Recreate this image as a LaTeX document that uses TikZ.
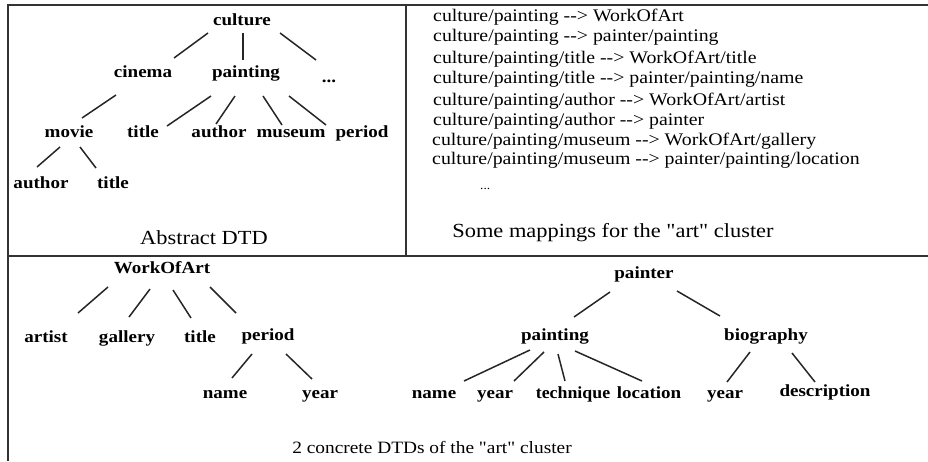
\documentclass[tikz,border=0pt]{standalone}
\usepackage{fontspec}
\setmainfont{Liberation Serif}[FakeStretch=1.12]
% same face without the TeX input mapping, for straight double quotes
\newfontfamily\straightq{Liberation Serif}[FakeStretch=1.12]
\usetikzlibrary{calc}
\newcommand{\dq}{{\straightq"}}
\begin{document}
\begin{tikzpicture}[x=1pt,y=-1pt,
  lbl/.style={anchor=base,inner sep=0pt,font=\fontsize{17}{20}\selectfont\bfseries},
  mapline/.style={anchor=base west,inner sep=0pt,font=\fontsize{17.7}{20}\selectfont},
  caption/.style={anchor=base,inner sep=0pt},
  frame/.style={line width=2pt,draw=black!80},
  branch/.style={line width=1.5pt,draw=black!85}]
\useasboundingbox (0,0) rectangle (928,461);

% panel frame
\draw[frame] (928,4.5) -- (7.5,4.5) -- (7.5,461);
\draw[frame] (7.5,255.5) -- (928,255.5);
\draw[frame] (406,4.5) -- (406,255.5);

% abstract DTD
\node[lbl] (culture) at (242,25) {culture};
\node[lbl] (cinema) at (143,77) {cinema};
\node[lbl] (painting) at (246,77) {painting};
\node[lbl] (more) at (329,82) {...};
\node[lbl] (movie) at (69,137) {movie};
\node[lbl] (ptitle) at (143,137) {title};
\node[lbl] (pauthor) at (219,137) {author};
\node[lbl] (museum) at (291,137) {museum};
\node[lbl] (pperiod) at (362,137) {period};
\node[lbl] (mauthor) at (41,188) {author};
\node[lbl] (mtitle) at (113,188) {title};

\draw[branch] ($(culture.base)+(-34,8)$) -- ($(cinema.base)+(31,-19)$);
\draw[branch] ($(culture.base)+(1,8)$) -- ($(painting.base)+(-3,-17)$);
\draw[branch] ($(culture.base)+(38,8)$) -- ($(more.base)+(-13,-22)$);
\draw[branch] ($(cinema.base)+(-27,18)$) -- ($(movie.base)+(13,-19)$);
\draw[branch] ($(painting.base)+(-35,19)$) -- ($(ptitle.base)+(24,-11)$);
\draw[branch] ($(painting.base)+(-11,19)$) -- ($(pauthor.base)+(-3,-13)$);
\draw[branch] ($(painting.base)+(17,19)$) -- ($(museum.base)+(-9,-12)$);
\draw[branch] ($(painting.base)+(43,19)$) -- ($(pperiod.base)+(-36,-12)$);
\draw[branch] ($(movie.base)+(-9,10)$) -- ($(mauthor.base)+(-4,-21)$);
\draw[branch] ($(movie.base)+(11,10)$) -- ($(mtitle.base)+(-17,-20)$);

\node[caption,font=\fontsize{20}{24}\selectfont] (abscap) at (204,244) {Abstract DTD};

% mappings
\node[mapline] (m1) at (433,21.7) {culture/painting -{}-> WorkOfArt};
\node[mapline] (m2) at (433,41.7) {culture/painting -{}-> painter/painting};
\node[mapline] (m3) at (433,63.3) {culture/painting/title -{}-> WorkOfArt/title};
\node[mapline] (m4) at (433,83.3) {culture/painting/title -{}-> painter/painting/name};
\node[mapline] (m5) at (433,105) {culture/painting/author -{}-> WorkOfArt/artist};
\node[mapline] (m6) at (433,125) {culture/painting/author -{}-> painter};
\node[mapline] (m7) at (432,145) {culture/painting/museum -{}-> WorkOfArt/gallery};
\node[mapline] (m8) at (432,164) {culture/painting/museum -{}-> painter/painting/location};
\node[mapline,font=\fontsize{12}{14}\selectfont] (m9) at (480,189) {...};

\node[caption,font=\fontsize{20}{24}\selectfont] (mapcap) at (613,237) {Some mappings for the \dq art\dq{} cluster};

% concrete DTD: WorkOfArt
\node[lbl] (woa) at (162,273) {WorkOfArt};
\node[lbl] (artist) at (46,342) {artist};
\node[lbl] (gallery) at (127,342) {gallery};
\node[lbl] (wtitle) at (200,342) {title};
\node[lbl] (wperiod) at (268,340) {period};
\node[lbl] (wname) at (225,398) {name};
\node[lbl] (wyear) at (320,398) {year};

\draw[branch] ($(woa.base)+(-54,14)$) -- ($(artist.base)+(32,-29)$);
\draw[branch] ($(woa.base)+(-12,16)$) -- ($(gallery.base)+(2,-25)$);
\draw[branch] ($(woa.base)+(11,17)$) -- ($(wtitle.base)+(-9,-24)$);
\draw[branch] ($(woa.base)+(48,14)$) -- ($(wperiod.base)+(-32,-27)$);
\draw[branch] ($(wperiod.base)+(-16,14)$) -- ($(wname.base)+(7,-20)$);
\draw[branch] ($(wperiod.base)+(18,14)$) -- ($(wyear.base)+(-8,-19)$);

% concrete DTD: painter
\node[lbl] (painter) at (644,278) {painter};
\node[lbl] (rpainting) at (555,340) {painting};
\node[lbl] (biography) at (766,340) {biography};
\node[lbl] (rname) at (434,398) {name};
\node[lbl] (ryear) at (495,398) {year};
\node[lbl,font=\fontsize{17}{20}\selectfont\bfseries\addfontfeature{FakeStretch=1.05}] (technique) at (573,398) {technique};
\node[lbl] (location) at (649,398) {location};
\node[lbl] (byear) at (725,398) {year};
\node[lbl] (description) at (825,396) {description};

\draw[branch] ($(painter.base)+(-34,14)$) -- ($(rpainting.base)+(19,-23)$);
\draw[branch] ($(painter.base)+(33,13)$) -- ($(biography.base)+(-46,-24)$);
\draw[branch] ($(rpainting.base)+(-25,10)$) -- ($(rname.base)+(30,-17)$);
\draw[branch] ($(rpainting.base)+(-11,12)$) -- ($(ryear.base)+(19,-17)$);
\draw[branch] ($(rpainting.base)+(3,14)$) -- ($(technique.base)+(-8,-17)$);
\draw[branch] ($(rpainting.base)+(20,11)$) -- ($(location.base)+(-7,-17)$);
\draw[branch] ($(biography.base)+(-16,12)$) -- ($(byear.base)+(2,-16)$);
\draw[branch] ($(biography.base)+(26,13)$) -- ($(description.base)+(-10,-14)$);

\node[caption,font=\fontsize{17.3}{20}\selectfont] (conccap) at (432,453) {2 concrete DTDs of the \dq art\dq{} cluster};
\end{tikzpicture}
\end{document}
